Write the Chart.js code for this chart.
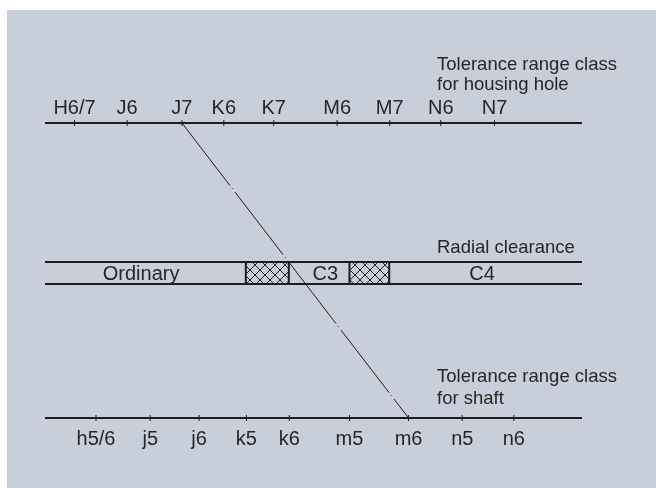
<!DOCTYPE html>
<html>
<head>
<meta charset="utf-8">
<script src="https://cdn.jsdelivr.net/npm/chart.js@4.4.1/dist/chart.umd.min.js"></script>
<style>
  html, body { margin: 0; padding: 0; background: #fff; }
  #wrap { width: 656px; height: 488px; position: relative; }
</style>
</head>
<body>
<div id="wrap"><canvas id="fitChart"></canvas></div>
<script>
// tolerance classes and where they sit along the scale (0..100)
const housingClasses = ['H6/7', 'J6', 'J7', 'K6', 'K7', 'M6', 'M7', 'N6', 'N7'];
const housingPos = [5.5, 15.3, 25.5, 33.3, 42.6, 54.4, 64.2, 73.7, 83.7];
const shaftClasses = ['h5/6', 'j5', 'j6', 'k5', 'k6', 'm5', 'm6', 'n5', 'n6'];
const shaftPos = [9.5, 19.6, 28.7, 37.5, 45.5, 56.7, 67.7, 77.7, 87.3];

// radial clearance groups
const clearanceNames = ['Ordinary', 'C3', 'C4'];
const clearanceLabelPos = [17.9, 52.2, 81.4];
const overlapStart = [37.4, 56.7];
const overlapEnd = [45.4, 64.1];

// example fit connecting housing and shaft
const fitLink = ['J7', 'm6'];

const INK = '#1c1c1c';
const TEXT = '#262626';
const PANEL = '#c8cfda';
const FONT = '"Liberation Sans", Arial, sans-serif';
const ROW = { housing: 100, bandTop: 52.88, bandBottom: 45.42, shaft: 0 };

const makeHatch = () => {
  const c = document.createElement('canvas');
  c.width = 10;
  c.height = 10;
  const g = c.getContext('2d');
  g.fillStyle = PANEL;
  g.fillRect(0, 0, 10, 10);
  g.strokeStyle = '#222';
  g.lineWidth = 1;
  g.beginPath();
  g.moveTo(0, 0); g.lineTo(10, 10);
  g.moveTo(10, 0); g.lineTo(0, 10);
  g.stroke();
  return g.createPattern(c, 'repeat');
};
const hatch = makeHatch();

const line = (points, width, extra = {}) => ({
  data: points,
  showLine: true,
  borderColor: INK,
  borderWidth: width,
  pointRadius: 0,
  clip: false,
  ...extra,
});

const ticks = (positions, y) => ({
  data: positions.map((x) => ({ x, y })),
  showLine: false,
  pointStyle: 'line',
  rotation: 90,
  pointRadius: 3,
  borderWidth: 1,
  borderColor: INK,
  clip: false,
});

const boxes = overlapStart.map((x0, i) => {
  const x1 = overlapEnd[i];
  return line([
    { x: x0, y: ROW.bandTop }, { x: x0, y: ROW.bandBottom },
    { x: x1, y: ROW.bandBottom }, { x: x1, y: ROW.bandTop },
    { x: x0, y: ROW.bandTop },
  ], 2, { fill: 'shape', backgroundColor: hatch });
});

const linkFrom = housingPos[housingClasses.indexOf(fitLink[0])];
const linkTo = shaftPos[shaftClasses.indexOf(fitLink[1])];

const datasets = [
  ...boxes,
  line([{ x: 0, y: ROW.housing }, { x: 100, y: ROW.housing }], 2),
  ticks(housingPos, ROW.housing),
  line([{ x: 0, y: ROW.shaft }, { x: 100, y: ROW.shaft }], 2),
  ticks(shaftPos, ROW.shaft),
  line([{ x: 0, y: ROW.bandTop }, { x: 100, y: ROW.bandTop }], 2),
  line([{ x: 0, y: ROW.bandBottom }, { x: 100, y: ROW.bandBottom }], 2),
  line([{ x: linkFrom, y: ROW.housing }, { x: linkTo, y: ROW.shaft }], 1, { borderDash: [79, 3, 1, 4] }),
];

const labelsPlugin = {
  id: 'labels',
  beforeDraw(chart) {
    const { ctx } = chart;
    ctx.save();
    ctx.fillStyle = PANEL;
    ctx.fillRect(7, 10, chart.width - 7, chart.height - 10);
    ctx.restore();
  },
  afterDraw(chart) {
    const { ctx } = chart;
    const xs = chart.scales.x;
    const ys = chart.scales.y;
    const hy = ys.getPixelForValue(ROW.housing);
    const sy = ys.getPixelForValue(ROW.shaft);
    const by = ys.getPixelForValue((ROW.bandTop + ROW.bandBottom) / 2);
    ctx.save();
    ctx.fillStyle = TEXT;
    ctx.textBaseline = 'alphabetic';

    ctx.font = `20px ${FONT}`;
    ctx.textAlign = 'center';
    housingClasses.forEach((t, i) => ctx.fillText(t, xs.getPixelForValue(housingPos[i]), hy - 9));
    shaftClasses.forEach((t, i) => ctx.fillText(t, xs.getPixelForValue(shaftPos[i]), sy + 27));
    clearanceNames.forEach((t, i) => ctx.fillText(t, xs.getPixelForValue(clearanceLabelPos[i]), by + 7));

    ctx.font = `18.5px ${FONT}`;
    ctx.textAlign = 'left';
    const hx = xs.getPixelForValue(73);
    ctx.fillText('Tolerance range class', hx, hy - 53);
    ctx.fillText('for housing hole', hx, hy - 33);
    ctx.fillText('Radial clearance', hx, ys.getPixelForValue(ROW.bandTop) - 9);
    ctx.fillText('Tolerance range class', hx, sy - 36);
    ctx.fillText('for shaft', hx, sy - 14);
    ctx.restore();
  },
};

new Chart(document.getElementById('fitChart'), {
  type: 'scatter',
  data: { datasets },
  options: {
    responsive: true,
    maintainAspectRatio: false,
    animation: false,
    events: [],
    layout: { padding: { left: 45, right: 74, top: 123, bottom: 70 } },
    scales: {
      x: { type: 'linear', min: 0, max: 100, display: false },
      y: { type: 'linear', min: 0, max: 100, display: false },
    },
    plugins: {
      legend: { display: false },
      tooltip: { enabled: false },
    },
  },
  plugins: [labelsPlugin],
});
</script>
</body>
</html>
